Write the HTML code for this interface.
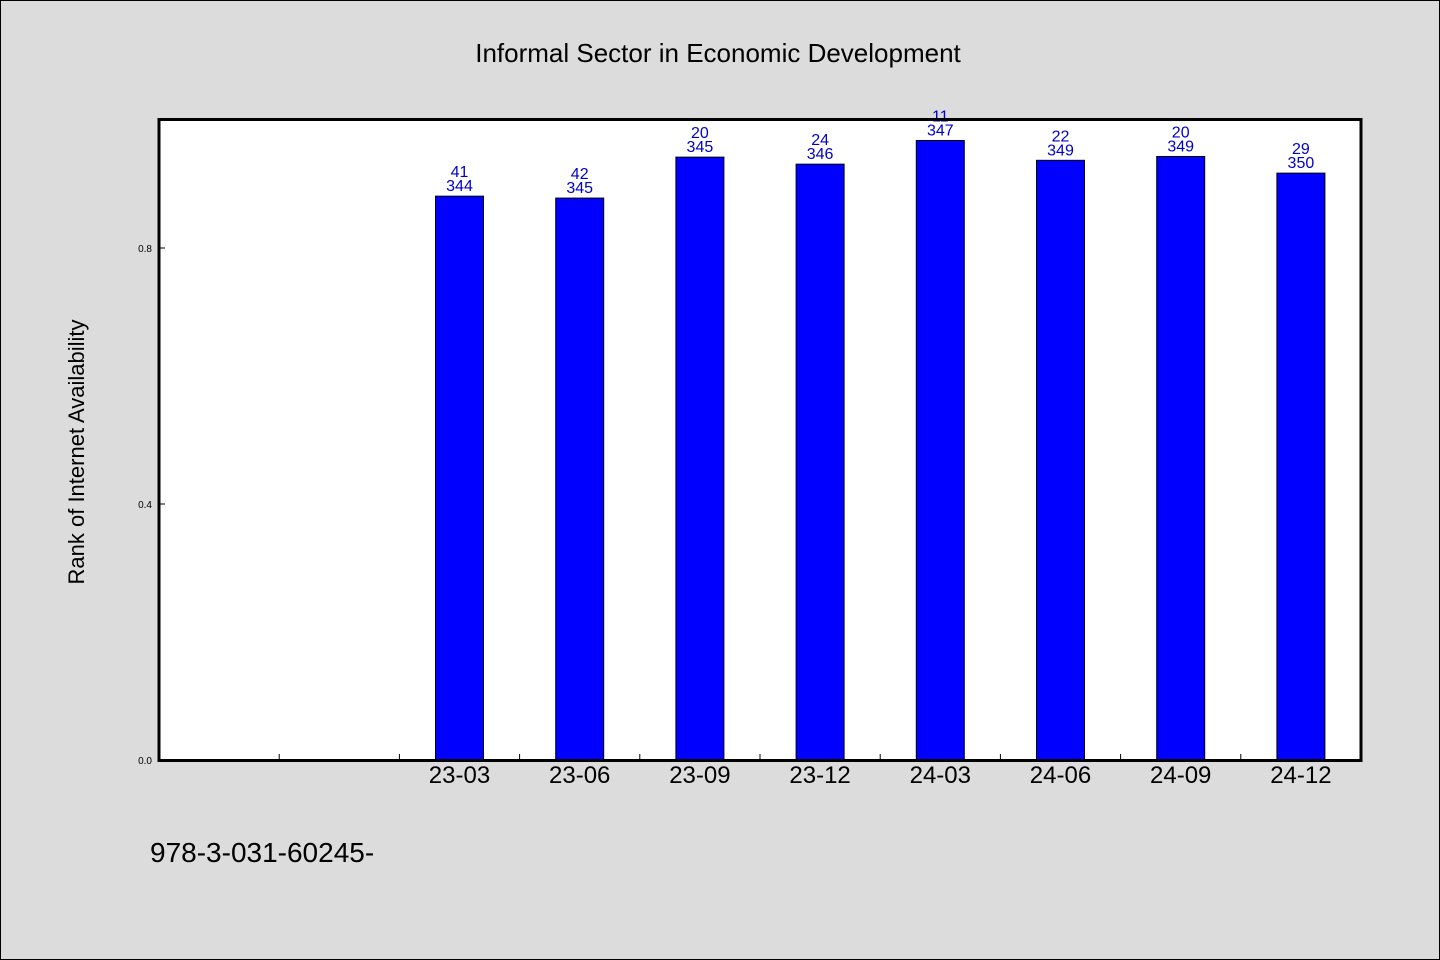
<!DOCTYPE html>
<html><head><meta charset="utf-8"><style>
body{margin:0;background:#dcdcdc;}
svg{display:block;font-family:"WenQuanYi Zen Hei","Liberation Sans",sans-serif;}
</style></head><body>
<svg id="chart" width="1440" height="960">
<rect x="0.5" y="0.5" width="1439" height="959" fill="#dcdcdc" stroke="#000"/>
<text x="718" y="62" font-size="26" text-anchor="middle">Informal Sector in Economic Development</text>
<rect x="159" y="119.5" width="1202" height="641" fill="#fff"/>
<g id="marks"></g>
<rect x="159" y="119.5" width="1202" height="641" fill="none" stroke="#000" stroke-width="3"/>
<text transform="translate(84,452) rotate(-90)" font-size="22" text-anchor="middle">Rank of Internet Availability</text>
<text x="150" y="862" font-size="28">978-3-031-60245-</text>
</svg>
<script>
const categories=["23-03","23-06","23-09","23-12","24-03","24-06","24-09","24-12"];
const ranks=[41,42,20,24,11,22,20,29];
const totals=[344,345,345,346,347,349,349,350];
const values=[0.881,0.878,0.942,0.931,0.968,0.937,0.943,0.917];
const yTicks=[0.0,0.4,0.8];
const yTickLabels=["0.0","0.4","0.8"];
const NS="http://www.w3.org/2000/svg";
const g=document.getElementById('marks');
const x0=159,slot=120.2,offset=2;
const yS=v=>760-v*640;
const xC=i=>x0+slot*(i+offset+0.5);
function mk(t,a){const e=document.createElementNS(NS,t);for(const k in a)e.setAttribute(k,a[k]);g.appendChild(e);return e;}
for(let i=1;i<10;i++){
 const t=mk('line',{x1:x0+slot*i,x2:x0+slot*i,y1:760,y2:754,stroke:'#000','stroke-width':1});
 
 
}
yTicks.forEach((v,i)=>{
 const l=mk('line',{x1:159,x2:165,y1:yS(v),y2:yS(v),stroke:'#000'});
 
 
 const t=mk('text',{x:152,y:yS(v)+4,'font-size':10,'text-anchor':'end'});
 t.textContent=yTickLabels[i];
 
 
});
categories.forEach((c,i)=>{
 const cx=xC(i),top=yS(values[i]);
 const b=mk('rect',{x:cx-24,y:top,width:48,height:760-top,fill:'#0000ff',stroke:'#000','stroke-width':1});
 
 
 const r=mk('text',{x:cx,y:top-19,'font-size':16,'text-anchor':'middle',fill:'#0000cc'});
 r.textContent=ranks[i];
 
 
 const tt=mk('text',{x:cx,y:top-5,'font-size':16,'text-anchor':'middle',fill:'#0000cc'});
 tt.textContent=totals[i];
 
 
 const xl=mk('text',{x:cx,y:783,'font-size':24,'text-anchor':'middle'});
 xl.textContent=c;
 
 
});
</script>
</body></html>
